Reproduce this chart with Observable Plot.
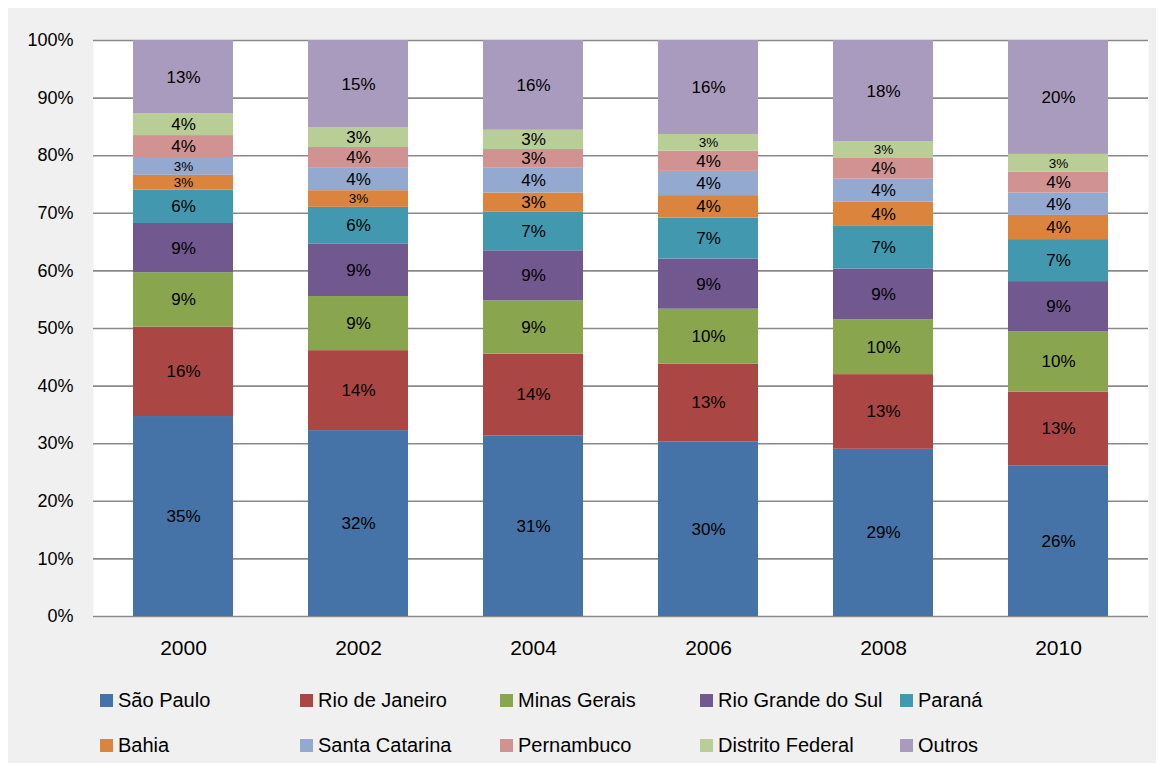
<!DOCTYPE html>
<html><head><meta charset="utf-8">
<script src="https://cdn.jsdelivr.net/npm/d3@7"></script>
<script src="https://cdn.jsdelivr.net/npm/@observablehq/plot@0.6"></script>
<style>
body{margin:0;background:#fff;font-family:"Liberation Sans",sans-serif}
#wrap{position:relative;width:1164px;height:771px;overflow:hidden}
#bg{position:absolute;left:8px;top:8px;width:1148px;height:755px;background:#f0f0f0}
#chart{position:absolute;left:0;top:0}
#chart g[aria-label="x-axis tick label"] text{font-size:21px}
#legend{position:absolute;left:100px;top:678px;display:grid;grid-template-columns:repeat(5,200px);grid-auto-rows:45px;font-size:20px;color:#000}
.item{display:flex;align-items:center;white-space:nowrap}
.sw{width:13px;height:13px;margin-right:5px;flex:none}
</style></head>
<body><div id="wrap"><div id="bg"></div><div id="chart"></div><div id="legend"></div></div>
<script>
const years = ["2000", "2002", "2004", "2006", "2008", "2010"];
const states = ["São Paulo", "Rio de Janeiro", "Minas Gerais", "Rio Grande do Sul", "Paraná",
                "Bahia", "Santa Catarina", "Pernambuco", "Distrito Federal", "Outros"];
const colors = ["#4572A7", "#AA4643", "#89A54E", "#71588F", "#4198AF",
                "#DB843D", "#93A9CF", "#D19392", "#B9CD96", "#A99BBD"];
const saoPaulo       = [34.7, 32.3, 31.4, 30.3, 29.05, 26.2];
const rioDeJaneiro   = [15.5, 13.9, 14.2, 13.45, 12.97, 12.8];
const minasGerais    = [9.45, 9.4, 9.25, 9.55, 9.55, 10.45];
const rioGrandeDoSul = [8.55, 9.15, 8.7, 8.7, 8.8, 8.75];
const parana         = [5.8, 6.35, 6.7, 7.1, 7.4, 7.3];
const bahia          = [2.55, 2.9, 3.35, 3.9, 4.2, 4.2];
const santaCatarina  = [3.1, 4.0, 4.3, 4.2, 4.0, 3.9];
const pernambuco     = [3.8, 3.5, 3.25, 3.5, 3.6, 3.6];
const distritoFederal= [3.8, 3.4, 3.35, 2.9, 2.9, 3.1];
const outros         = [12.7, 15.2, 15.6, 16.3, 17.6, 19.8];
const yTicks = [0, 0.1, 0.2, 0.3, 0.4, 0.5, 0.6, 0.7, 0.8, 0.9, 1.0];

const seriesValues = [saoPaulo, rioDeJaneiro, minasGerais, rioGrandeDoSul, parana,
                      bahia, santaCatarina, pernambuco, distritoFederal, outros];
const rows = [];
states.forEach((s, i) => years.forEach((y, j) => rows.push({year: y, state: s, value: seriesValues[i][j]})));

const chart = Plot.plot({
  width: 1164,
  height: 680,
  marginLeft: 93,
  marginRight: 16,
  marginTop: 40,
  marginBottom: 64,
  style: {fontFamily: "Liberation Sans, sans-serif", fontSize: "18px", color: "#000", background: "transparent", overflow: "visible"},
  x: {domain: years, paddingInner: 0.43, paddingOuter: 0.215, label: null, tickSize: 0, tickPadding: 24},
  y: {domain: [0, 1], ticks: yTicks, tickFormat: d3.format(".0%"), label: null, tickSize: 0, tickPadding: 20},
  color: {domain: states, range: colors},
  marks: [
    Plot.frame({fill: "white", stroke: "none"}),
    Plot.ruleY(yTicks, {stroke: "#8a8a8a", strokeWidth: 1.6}),
    Plot.barY(rows, Plot.stackY({x: "year", y: "value", z: "state", fill: "state", offset: "normalize", inset: 0})),
    Plot.text(rows, Plot.stackY({x: "year", y: "value", z: "state", offset: "normalize",
      text: d => Math.round(d.value) + "%", fill: "#000",
      fontSize: d => d.value < 3.2 ? 13.5 : 17}))
  ]
});
document.getElementById("chart").appendChild(chart);

const legend = document.getElementById("legend");
states.forEach((s, i) => {
  const item = document.createElement("div");
  item.className = "item";
  const sw = document.createElement("span");
  sw.className = "sw";
  sw.style.background = colors[i];
  const t = document.createElement("span");
  t.textContent = s;
  item.appendChild(sw); item.appendChild(t);
  legend.appendChild(item);
});
</script>
</body></html>
